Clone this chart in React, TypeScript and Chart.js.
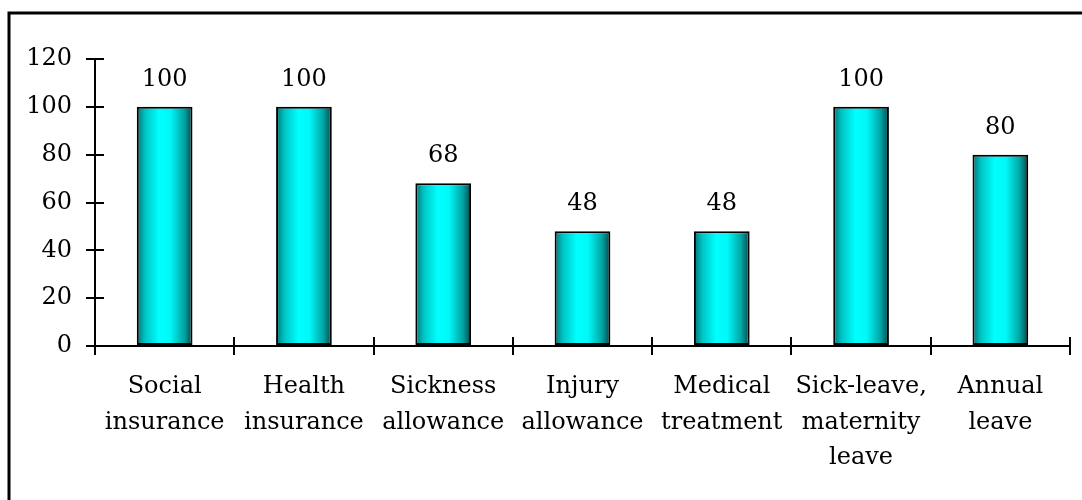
import React, { useEffect, useRef } from "react";
import { Chart, registerables } from "chart.js";

Chart.register(...registerables);

const categories: string[][] = [
  ["Social", "insurance"],
  ["Health", "insurance"],
  ["Sickness", "allowance"],
  ["Injury", "allowance"],
  ["Medical", "treatment"],
  ["Sick-leave,", "maternity", "leave"],
  ["Annual", "leave"],
];
const values: number[] = [100, 100, 68, 48, 48, 100, 80];
const yMin = 0;
const yMax = 120;
const yStep = 20;

const FONT = "'DejaVu Serif', serif";
const FSIZE = 24;

const framePlugin = {
  id: "frame",
  afterDraw(chart: any) {
    const ctx = chart.ctx;
    ctx.save();
    ctx.strokeStyle = "#000";
    ctx.lineWidth = 3;
    ctx.strokeRect(9, 13, 1200, 700);
    ctx.restore();
  },
};

const innerTicksPlugin = {
  id: "innerTicks",
  afterDatasetsDraw(chart: any) {
    const ctx = chart.ctx;
    const { left, bottom } = chart.chartArea;
    const ys = chart.scales.y;
    const xs = chart.scales.x;
    ctx.save();
    ctx.strokeStyle = "#000";
    ctx.lineWidth = 2;
    ctx.beginPath();
    for (let v = yMin; v <= yMax; v += yStep) {
      const py = Math.round(ys.getPixelForValue(v));
      ctx.moveTo(left, py);
      ctx.lineTo(left + 9, py);
    }
    const n = categories.length;
    for (let i = 0; i <= n; i++) {
      const px = Math.round(xs.getPixelForValue(i - 0.5));
      ctx.moveTo(px, bottom);
      ctx.lineTo(px, bottom - 9);
    }
    ctx.stroke();
    ctx.restore();
  },
};

const valueLabelPlugin = {
  id: "valueLabels",
  afterDatasetsDraw(chart: any) {
    const ctx = chart.ctx;
    const meta = chart.getDatasetMeta(0);
    ctx.save();
    ctx.fillStyle = "#000";
    ctx.font = `${FSIZE}px ${FONT}`;
    ctx.textAlign = "center";
    ctx.textBaseline = "alphabetic";
    meta.data.forEach((bar: any, i: number) => {
      ctx.fillText(String(values[i]), bar.x, bar.y - 21);
    });
    ctx.restore();
  },
};

function barGradient(context: any) {
  const chart = context.chart;
  const xs = chart.scales && chart.scales.x;
  if (!chart.chartArea || !xs) return "#00ffff";
  const cx = xs.getPixelForValue(context.dataIndex);
  const w = (xs.width / categories.length) * 0.4;
  const x0 = cx - w / 2;
  if (!isFinite(x0) || !isFinite(w) || w <= 0) return "#00ffff";
  const g = chart.ctx.createLinearGradient(x0, 0, x0 + w, 0);
  g.addColorStop(0, "#007474");
  g.addColorStop(0.15, "#00c4c4");
  g.addColorStop(0.4, "#00ffff");
  g.addColorStop(0.6, "#00f8f8");
  g.addColorStop(0.85, "#00a4a4");
  g.addColorStop(1, "#004848");
  return g;
}

export default function App() {
  const ref = useRef<HTMLCanvasElement | null>(null);
  useEffect(() => {
    document.body.style.margin = "0";
    const canvas = ref.current;
    if (!canvas) return;
    const chart = new Chart(canvas, {
      type: "bar",
      data: {
        labels: categories,
        datasets: [
          {
            data: values,
            backgroundColor: barGradient as any,
            borderColor: "#000",
            borderWidth: 2,
            borderSkipped: false,
            barPercentage: 0.4,
            categoryPercentage: 1,
          },
        ],
      },
      options: {
        animation: false,
        responsive: false,
        maintainAspectRatio: false,
        layout: { padding: { top: 59, right: 12, left: 0, bottom: 0 } },
        plugins: {
          legend: { display: false },
          tooltip: { enabled: false },
        },
        scales: {
          x: {
            grid: {
              display: true,
              drawOnChartArea: false,
              drawTicks: true,
              tickLength: 9,
              color: "#000",
              lineWidth: 2,
              offset: true,
            },
            border: { display: true, color: "#000", width: 2 },
            ticks: {
              color: "#000",
              font: { family: FONT, size: FSIZE, lineHeight: 1.48 },
              padding: 14,
              maxRotation: 0,
              autoSkip: false,
            },
            afterFit(scale: any) {
              scale.height = 154;
            },
          },
          y: {
            min: yMin,
            max: yMax,
            grid: {
              display: true,
              drawOnChartArea: false,
              drawTicks: true,
              tickLength: 9,
              color: "#000",
              lineWidth: 2,
            },
            border: { display: true, color: "#000", width: 2 },
            ticks: {
              stepSize: yStep,
              color: "#000",
              font: { family: FONT, size: FSIZE },
              padding: 14,
            },
            afterFit(scale: any) {
              scale.width = 95;
            },
          },
        },
      },
      plugins: [innerTicksPlugin, valueLabelPlugin, framePlugin],
    });
    return () => chart.destroy();
  }, []);
  return (
    <div style={{ width: 1082, height: 500, background: "#fff" }}>
      <canvas ref={ref} width={1082} height={500} style={{ display: "block" }} />
    </div>
  );
}
